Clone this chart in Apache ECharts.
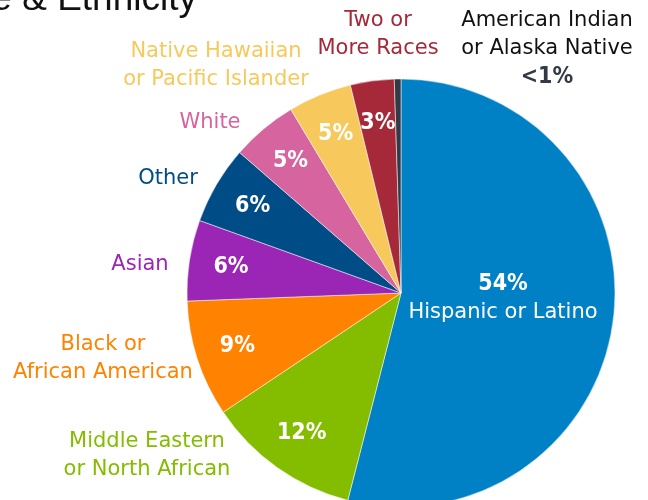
<!DOCTYPE html>
<html>
<head>
<meta charset="utf-8">
<script src="https://cdn.jsdelivr.net/npm/echarts@6/dist/echarts.min.js"></script>
<style>
  html, body { margin: 0; padding: 0; background: #fff; }
  #chart { width: 648px; height: 500px; }
</style>
</head>
<body>
<div id="chart"></div>
<script>
  // data, clockwise from 12 o'clock
  var categories = ['Hispanic or Latino', 'Middle Eastern or North African', 'Black or African American',
    'Asian', 'Other', 'White', 'Native Hawaiian or Pacific Islander', 'Two or More Races',
    'American Indian or Alaska Native'];
  var shares = [54, 11.6, 8.8, 6.1, 5.9, 5.0, 4.8, 3.3, 0.5];
  var shareText = ['54%', '12%', '9%', '6%', '6%', '5%', '5%', '3%', '<1%'];
  var nameLines = [
    ['Hispanic or Latino'],
    ['Middle Eastern', 'or North African'],
    ['Black or', 'African American'],
    ['Asian'],
    ['Other'],
    ['White'],
    ['Native Hawaiian', 'or Pacific Islander'],
    ['Two or', 'More Races'],
    ['American Indian', 'or Alaska Native']
  ];

  var colors = ['#0081c6', '#84bd00', '#ff8200', '#9b26b6', '#004c86', '#d6649e', '#f7c95c', '#a6293a', '#333a45'];
  var labelColors = ['#ffffff', '#84bd00', '#ff8200', '#9b26b6', '#004c86', '#d6649e', '#f7c95c', '#a6293a', '#111111'];
  // where the name labels sit (centre of the text block)
  var namePos = [[503, 298], [147, 456], [103, 359], [140, 265], [168, 179], [210, 123], [216, 66], [378, 35], [547, 49]];

  var nameFont = 'DejaVu Sans';
  var pctFont = '"DejaVu Sans Condensed", "DejaVu Sans", sans-serif';

  var chart = echarts.init(document.getElementById('chart'));

  var nameData = categories.map(function (c, i) {
    var lines = nameLines[i].map(function (l) { return '{n|' + l + '}'; });
    if (i === 0) lines.unshift('{p|' + shareText[i] + '}');
    if (i === 8) lines.push('{g|' + shareText[i] + '}');
    return {
      name: c,
      value: shares[i],
      itemStyle: { color: colors[i] },
      label: {
        formatter: lines.join('\n'),
        rich: {
          n: { fontFamily: nameFont, fontSize: 21, color: labelColors[i], lineHeight: 28 },
          p: { fontFamily: pctFont, fontWeight: 'bold', fontSize: 23, color: '#fff', lineHeight: 29 },
          g: { fontFamily: pctFont, fontWeight: 'bold', fontSize: 23, color: '#333a45', lineHeight: 29 }
        }
      }
    };
  });

  var pctData = categories.map(function (c, i) {
    return {
      name: c,
      value: shares[i],
      label: { show: i !== 0 && i !== 8, formatter: shareText[i] }
    };
  });

  chart.setOption({
    animation: false,
    title: {
      text: 'Race & Ethnicity',
      right: 451,
      top: -19,
      padding: 0,
      textStyle: { fontFamily: 'Liberation Sans', fontSize: 37, fontWeight: 'normal', color: '#111' }
    },
    series: [{
      type: 'pie',
      center: [401, 293],
      radius: 214,
      startAngle: 90,
      clockwise: true,
      itemStyle: { borderColor: '#fff', borderWidth: 0.5 },
      label: { position: 'outside', align: 'center', overflow: 'none' },
      labelLine: { show: false },
      labelLayout: function (params) {
        var p = namePos[params.dataIndex];
        return { x: p[0], y: p[1], align: 'center', verticalAlign: 'middle' };
      },
      data: nameData
    }, {
      // transparent ring so the percentages sit near the rim
      type: 'pie',
      center: [401, 293],
      radius: [124, 214],
      startAngle: 90,
      clockwise: true,
      silent: true,
      itemStyle: { color: 'rgba(0,0,0,0)' },
      label: {
        position: 'inside',
        fontFamily: pctFont,
        fontWeight: 'bold',
        fontSize: 23,
        color: '#fff'
      },
      labelLine: { show: false },
      data: pctData
    }]
  });
</script>
</body>
</html>
